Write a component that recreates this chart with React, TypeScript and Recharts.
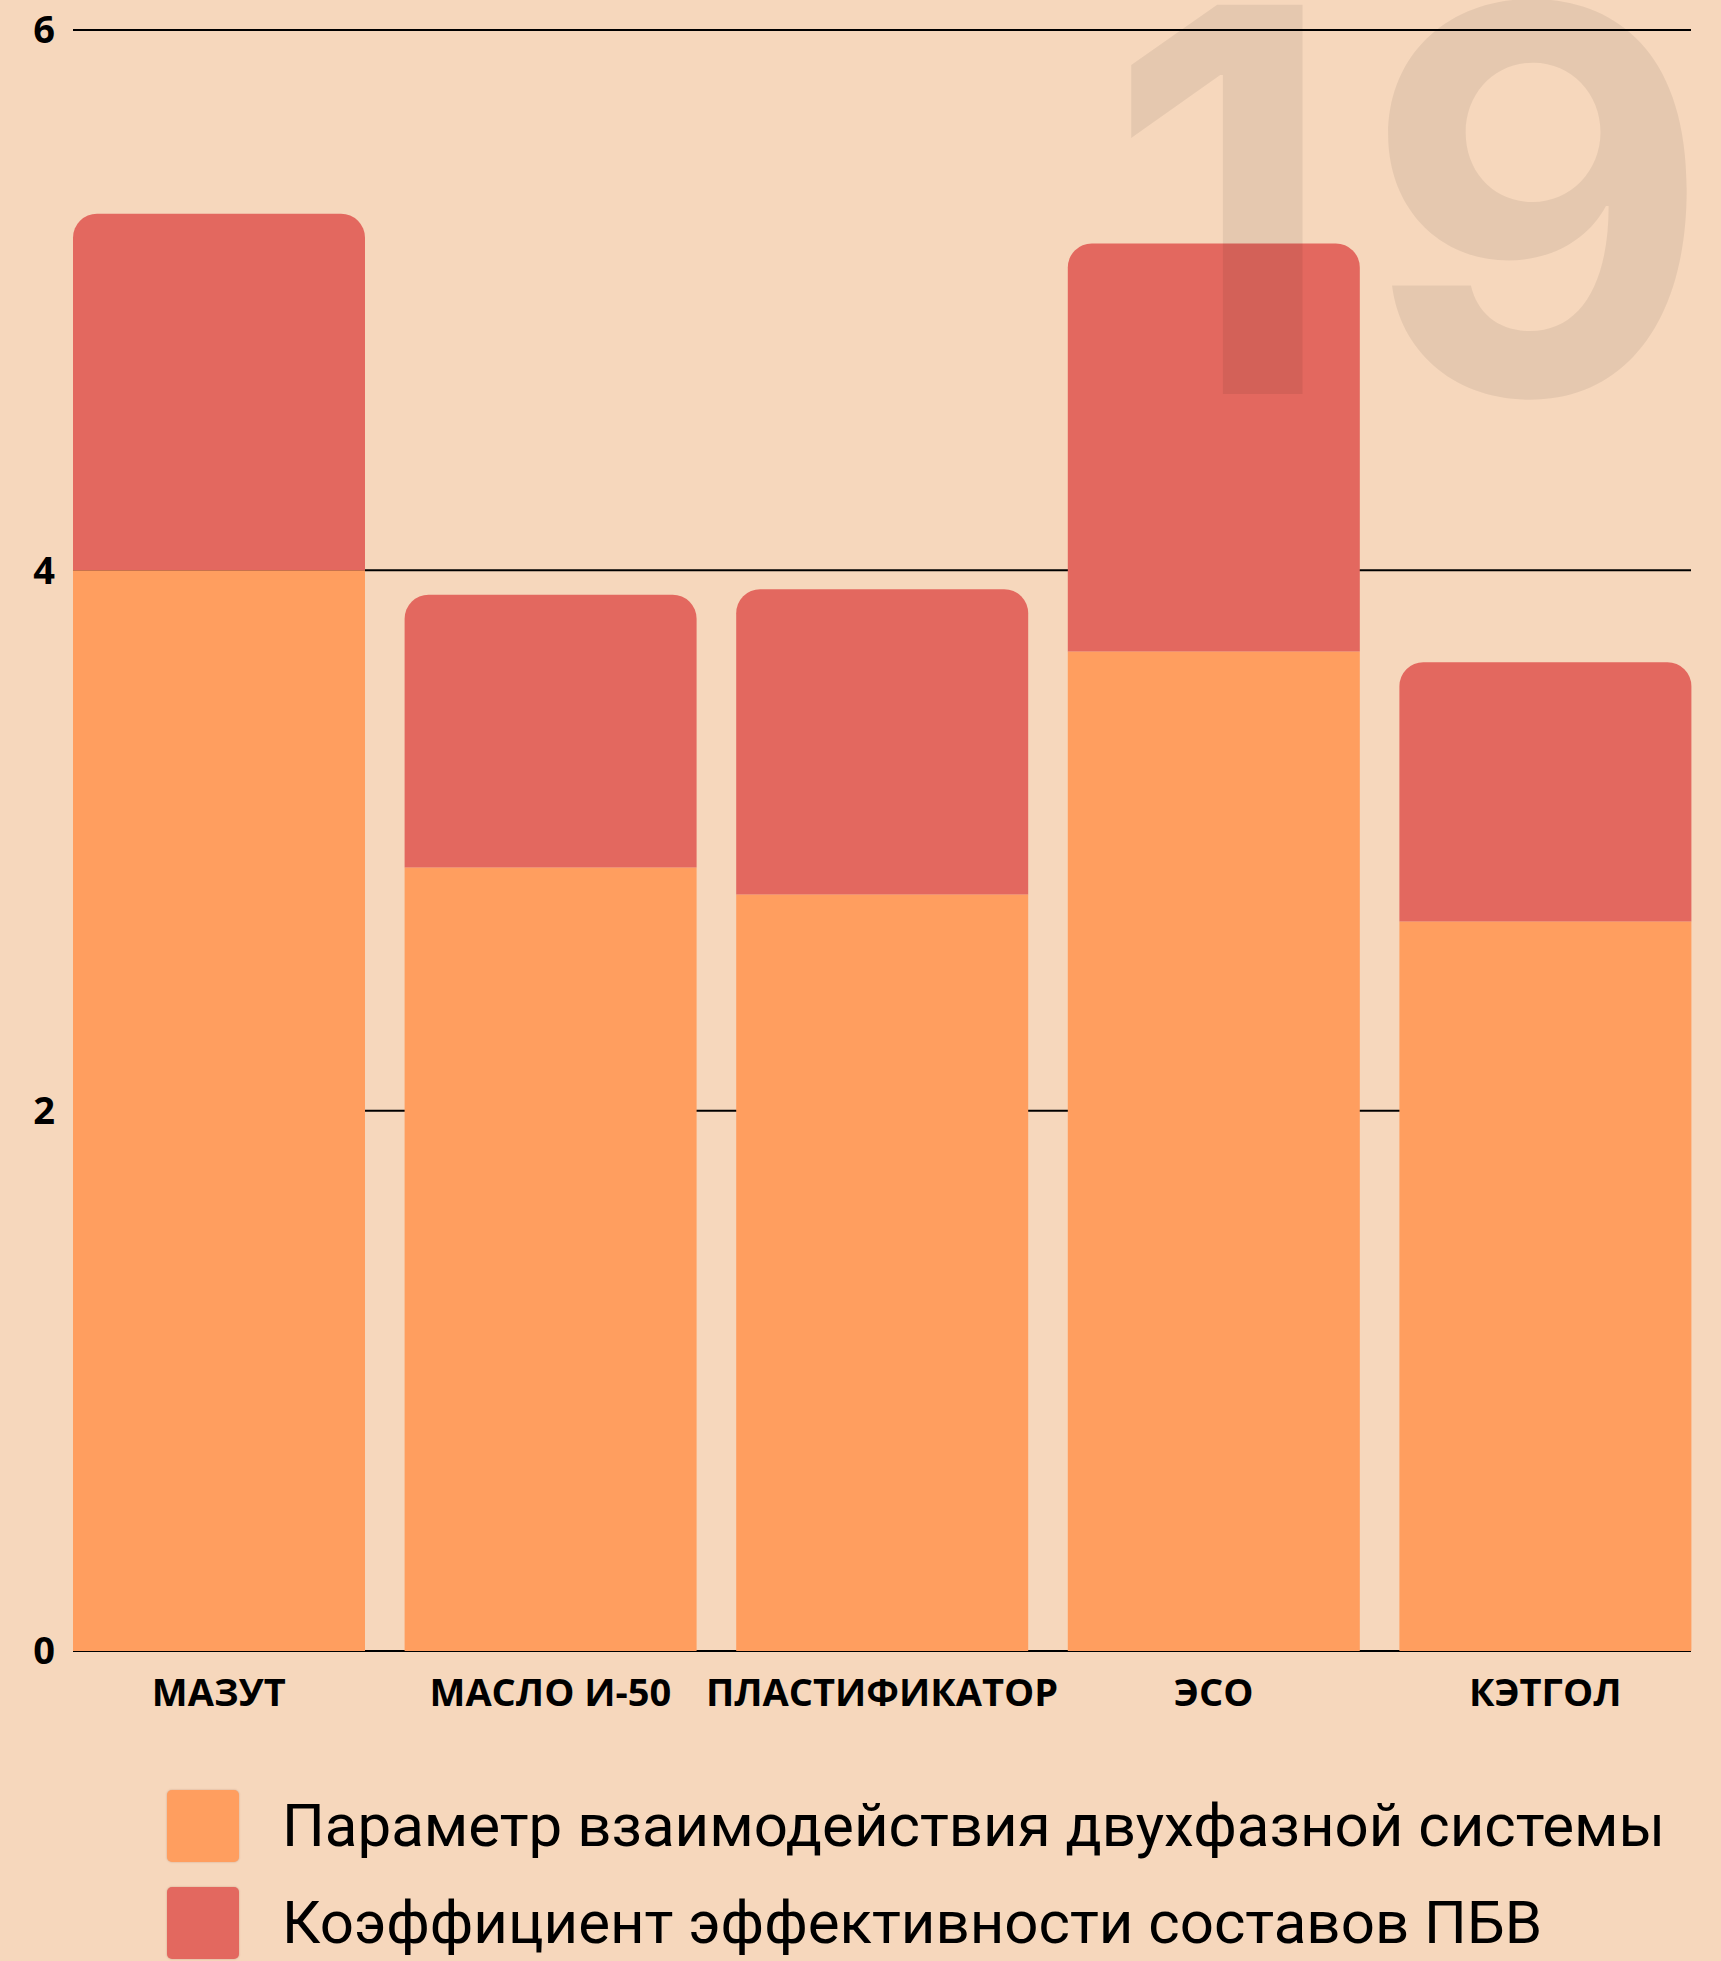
import React from "react";
import { Bar, BarChart, CartesianGrid, Legend, XAxis, YAxis } from "recharts";

const categories = ["МАЗУТ", "МАСЛО И-50", "ПЛАСТИФИКАТОР", "ЭСО", "КЭТГОЛ"];
const interactionParam = [4.0, 2.9, 2.8, 3.7, 2.7];
const efficiencyCoef = [1.32, 1.01, 1.13, 1.51, 0.96];
const yTicks = [0, 2, 4, 6];
const seriesNames = [
  "Параметр взаимодействия двухфазной системы",
  "Коэффициент эффективности составов ПБВ",
];
const watermark = ["1", "9"];

const BG = "#F6D7BC";
const ORANGE = "#FF9E5F";
const RED = "#E3685F";

const W = 1721;
const H = 1961;

const data = categories.map((name, i) => ({
  name,
  param: interactionParam[i],
  coef: efficiencyCoef[i],
}));

const legendItems = [
  { name: seriesNames[0], color: ORANGE },
  { name: seriesNames[1], color: RED },
];

const tickStyle = {
  fontFamily: "'Open Sans', sans-serif",
  fontSize: 38,
  fontWeight: 700,
  fill: "#000",
};

const LegendContent = () => (
  <div>
    {legendItems.map((item) => (
      <div
        key={item.name}
        style={{ display: "flex", alignItems: "center", height: 97 }}
      >
        <span
          style={{
            width: 72,
            height: 72,
            background: item.color,
            borderRadius: 5,
            boxShadow: "0 0 2px rgba(120,60,40,0.35)",
            marginRight: 43,
            flex: "none",
          }}
        />
        <span
          style={{
            fontFamily: "Roboto, sans-serif",
            fontSize: 60,
            color: "#000",
            whiteSpace: "nowrap",
          }}
        >
          {item.name}
        </span>
      </div>
    ))}
  </div>
);

export default function App() {
  return (
    <div
      style={{
        position: "absolute",
        left: 0,
        top: 0,
        width: W,
        height: H,
        background: BG,
        overflow: "hidden",
      }}
    >
      <style>{"body{margin:0}"}</style>
      <BarChart
        width={W}
        height={H}
        data={data}
        margin={{ top: 30, right: 30, bottom: 250, left: 0 }}
        barCategoryGap={20}
      >
        <CartesianGrid
          horizontal
          vertical={false}
          stroke="#000"
          strokeWidth={2}
        />
        <XAxis
          dataKey="name"
          axisLine={false}
          tickLine={false}
          tickSize={0}
          tickMargin={28}
          height={60}
          interval={0}
          padding={{ left: -20, right: -20 }}
          tick={tickStyle}
        />
        <YAxis
          domain={[0, 6]}
          ticks={yTicks}
          axisLine={false}
          tickLine={false}
          tickSize={0}
          tickMargin={18}
          width={73}
          tick={tickStyle}
        />
        <Legend
          verticalAlign="middle"
          align="center"
          layout="horizontal"
          content={<LegendContent />}
          wrapperStyle={{
            position: "absolute",
            left: 167,
            top: 1777,
            bottom: "auto",
            right: "auto",
            width: "auto",
            height: "auto",
          }}
        />
        <Bar
          dataKey="param"
          name={seriesNames[0]}
          stackId="s"
          fill={ORANGE}
          isAnimationActive={false}
        />
        <Bar
          dataKey="coef"
          name={seriesNames[1]}
          stackId="s"
          fill={RED}
          radius={[24, 24, 0, 0]}
          isAnimationActive={false}
        />
      </BarChart>
      {/* big faded page number drawn over the chart */}
      <svg
        width={W}
        height={H}
        style={{ position: "absolute", left: 0, top: 0, pointerEvents: "none" }}
      >
        <text
          x={1711}
          y={394}
          textAnchor="end"
          fontFamily="Inter, sans-serif"
          fontWeight={700}
          fontSize={535}
          fill="rgba(0,0,0,0.065)"
        >
          <tspan>{watermark[0]}</tspan>
          <tspan dx={26}>{watermark[1]}</tspan>
        </text>
      </svg>
    </div>
  );
}
